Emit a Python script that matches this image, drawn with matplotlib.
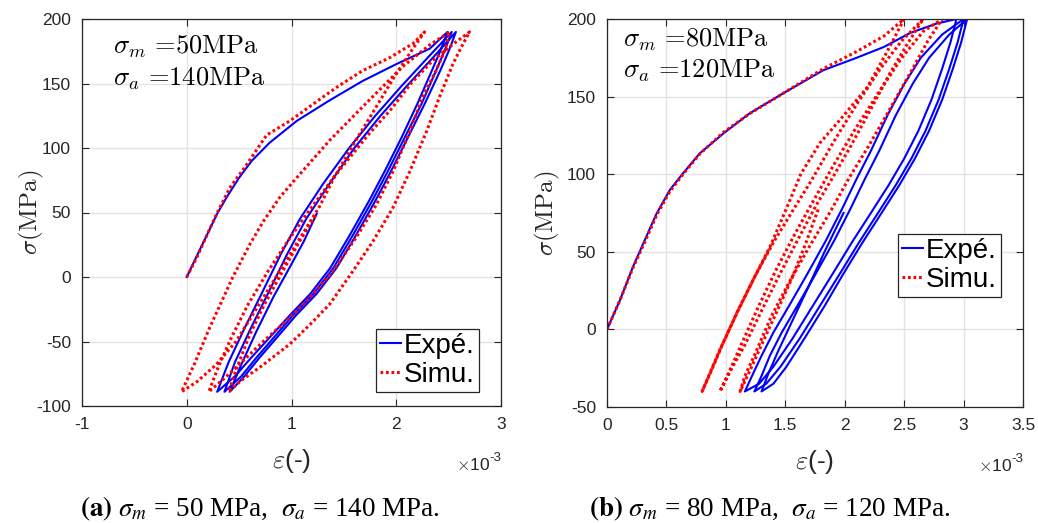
import matplotlib
matplotlib.use("Agg")
import matplotlib.pyplot as plt
from matplotlib.lines import Line2D

plt.rcParams['axes.unicode_minus'] = False
plt.rcParams['mathtext.fontset'] = 'cm'
plt.rcParams['font.family'] = ['Liberation Sans', 'DejaVu Sans']

# ---------------- data (strain in 1e-3, stress in MPa) ----------------
# Panel (a): sigma_m = 50 MPa, sigma_a = 140 MPa
a_exp_init_eps = [0, 0.13, 0.29, 0.39, 0.50, 0.62, 0.79, 1.05, 1.365, 1.68, 2.0, 2.32, 2.49]
a_exp_init_sig = [0, 22, 49, 63, 77, 90, 104, 121, 137, 152, 165, 177, 190]
a_exp_u1_eps = [2.49, 2.42, 2.34, 2.20, 2.05, 1.89, 1.74, 1.56, 1.37, 1.18, 0.98, 0.79, 0.61, 0.46, 0.29]
a_exp_u1_sig = [190, 175, 160, 134, 108, 82, 59, 33, 7, -13, -30, -47, -63, -77, -89]
a_exp_r1_eps = [0.29, 0.40, 0.55, 0.72, 0.90, 1.08, 1.30, 1.55, 1.80, 2.05, 2.30, 2.53]
a_exp_r1_sig = [-89, -66, -40, -12, 18, 45, 72, 100, 125, 148, 170, 190]
a_exp_u2_eps = [2.53, 2.46, 2.38, 2.24, 2.08, 1.92, 1.77, 1.59, 1.40, 1.21, 1.01, 0.83, 0.66, 0.52, 0.36]
a_exp_u2_sig = [190, 175, 160, 134, 108, 82, 59, 33, 7, -13, -30, -47, -63, -77, -89]
a_exp_r2_eps = [0.36, 0.46, 0.61, 0.78, 0.96, 1.14, 1.36, 1.60, 1.85, 2.10, 2.35, 2.57]
a_exp_r2_sig = [-89, -66, -40, -12, 18, 45, 72, 100, 125, 148, 170, 190]
a_exp_u3_eps = [2.57, 2.50, 2.42, 2.27, 2.11, 1.95, 1.80, 1.62, 1.43, 1.24, 1.04, 0.86, 0.69, 0.55, 0.41]
a_exp_u3_sig = [190, 175, 160, 134, 108, 82, 59, 33, 7, -13, -30, -47, -63, -77, -89]
a_exp_r3_eps = [0.41, 0.52, 0.66, 0.83, 1.00, 1.12, 1.24]
a_exp_r3_sig = [-89, -68, -43, -15, 10, 28, 49]

a_sim_init_eps = [0, 0.095, 0.286, 0.41, 0.571, 0.762, 0.984, 1.206, 1.43, 1.68, 1.937, 2.16, 2.27]
a_sim_init_sig = [0, 15, 49, 69, 87, 110, 121, 134, 147, 160, 170, 181, 190]
a_sim_u1_eps = [2.27, 2.15, 1.98, 1.78, 1.57, 1.40, 1.27, 1.08, 0.89, 0.70, 0.47, 0.28, 0.10, -0.05]
a_sim_u1_sig = [190, 176, 155, 128, 100, 76, 55, 30, 5, -20, -50, -68, -81, -89]
a_sim_r1_eps = [-0.05, 0.07, 0.22, 0.44, 0.60, 0.73, 0.89, 1.05, 1.365, 1.68, 2.06, 2.32, 2.51]
a_sim_r1_sig = [-89, -68, -39, 0, 25, 43, 62, 77, 106, 132, 163, 180, 190]
a_sim_u2_eps = [2.51, 2.46, 2.38, 2.25, 2.13, 1.97, 1.81, 1.62, 1.40, 1.175, 0.95, 0.73, 0.55, 0.38, 0.21]
a_sim_u2_sig = [190, 175, 160, 139, 113, 82, 56, 31, 5, -16, -34, -50, -64, -77, -89]
a_sim_r2_eps = [0.21, 0.30, 0.42, 0.58, 0.78, 1.00, 1.20, 1.41, 1.73, 1.95, 2.14, 2.35, 2.55, 2.70]
a_sim_r2_sig = [-89, -70, -48, -22, 5, 32, 55, 78, 110, 130, 150, 168, 181, 190]
a_sim_u3_eps = [2.70, 2.62, 2.54, 2.41, 2.29, 2.13, 1.97, 1.78, 1.59, 1.365, 1.175, 0.984, 0.73, 0.508, 0.40]
a_sim_u3_sig = [190, 178, 165, 139, 113, 82, 54, 28, 5, -21, -37, -52, -68, -81, -89]
a_sim_r3_eps = [0.40, 0.48, 0.60, 0.75, 0.92, 1.08, 1.24]
a_sim_r3_sig = [-89, -70, -45, -20, 5, 28, 49]

# Panel (b): sigma_m = 80 MPa, sigma_a = 120 MPa
b_exp_init_eps = [0, 0.11, 0.22, 0.306, 0.418, 0.53, 0.64, 0.78, 0.98, 1.20, 1.48, 1.82, 2.10, 2.33, 2.55, 2.77, 2.94]
b_exp_init_sig = [0, 19, 40.6, 55.5, 74.8, 90, 100.6, 113.4, 126.3, 139.2, 152, 167, 175, 182, 191, 197, 200]
b_exp_u1_eps = [2.94, 2.89, 2.82, 2.73, 2.62, 2.50, 2.37, 2.22, 2.06, 1.90, 1.73, 1.56, 1.40, 1.28, 1.16]
b_exp_u1_sig = [200, 185, 168, 148, 128, 110, 93, 75, 56, 36, 15, -6, -24, -35, -40]
b_exp_r1_eps = [1.16, 1.22, 1.30, 1.40, 1.53, 1.68, 1.84, 1.98, 2.10, 2.22, 2.36, 2.50, 2.64, 2.82, 3.00]
b_exp_r1_sig = [-40, -30, -17, -2, 15, 35, 57, 78, 97, 115, 138, 158, 175, 190, 200]
b_exp_u2_eps = [3.00, 2.95, 2.88, 2.79, 2.68, 2.56, 2.43, 2.28, 2.12, 1.96, 1.79, 1.62, 1.46, 1.34, 1.24]
b_exp_u2_sig = [200, 185, 168, 148, 128, 110, 93, 75, 56, 36, 15, -6, -24, -35, -40]
b_exp_r2_eps = [1.24, 1.30, 1.37, 1.47, 1.60, 1.75, 1.91, 2.05, 2.17, 2.29, 2.43, 2.57, 2.71, 2.88, 3.03]
b_exp_r2_sig = [-40, -30, -17, -2, 15, 35, 57, 78, 97, 115, 138, 158, 175, 190, 200]
b_exp_u3_eps = [3.03, 2.98, 2.91, 2.82, 2.71, 2.59, 2.46, 2.31, 2.15, 1.99, 1.83, 1.66, 1.51, 1.40, 1.30]
b_exp_u3_sig = [200, 185, 168, 148, 128, 110, 93, 75, 56, 36, 15, -6, -24, -35, -40]
b_exp_r3_eps = [1.30, 1.36, 1.44, 1.55, 1.68, 1.83, 1.99]
b_exp_r3_sig = [-40, -28, -14, 4, 25, 50, 75]

b_sim_init_eps = [0, 0.11, 0.22, 0.31, 0.42, 0.53, 0.64, 0.78, 0.98, 1.20, 1.48, 1.82, 2.10, 2.33, 2.50]
b_sim_init_sig = [0, 19, 40, 55, 74, 89, 100, 113, 127, 139, 152, 168, 179, 189, 200]
b_sim_u1_eps = [2.50, 2.35, 2.19, 1.96, 1.79, 1.63, 1.51, 1.37, 1.23, 1.09, 0.95, 0.80]
b_sim_u1_sig = [200, 178, 156, 135, 120, 100, 78, 53, 32, 10, -13, -40]
b_sim_r1_eps = [0.80, 0.87, 0.97, 1.10, 1.25, 1.40, 1.55, 1.72, 1.90, 2.10, 2.30, 2.48, 2.66]
b_sim_r1_sig = [-40, -28, -10, 12, 35, 56, 75, 96, 120, 145, 168, 186, 200]
b_sim_u2_eps = [2.66, 2.52, 2.38, 2.22, 2.05, 1.90, 1.76, 1.60, 1.45, 1.30, 1.16, 1.05, 0.95]
b_sim_u2_sig = [200, 183, 165, 142, 118, 98, 80, 57, 35, 12, -10, -25, -40]
b_sim_r2_eps = [0.95, 1.03, 1.14, 1.27, 1.42, 1.57, 1.73, 1.90, 2.08, 2.28, 2.48, 2.66, 2.82]
b_sim_r2_sig = [-40, -27, -8, 14, 38, 60, 82, 105, 128, 152, 175, 192, 200]
b_sim_u3_eps = [2.82, 2.70, 2.55, 2.38, 2.20, 2.04, 1.88, 1.70, 1.53, 1.38, 1.25, 1.16, 1.12]
b_sim_u3_sig = [200, 186, 165, 142, 118, 98, 76, 53, 30, 8, -15, -30, -40]
b_sim_r3_eps = [1.12, 1.20, 1.30, 1.42, 1.55, 1.67, 1.78]
b_sim_r3_sig = [-40, -27, -10, 10, 32, 55, 78]

a_xticks = [-1, 0, 1, 2, 3]
a_yticks = [-100, -50, 0, 50, 100, 150, 200]
b_xticks = [0, 0.5, 1, 1.5, 2, 2.5, 3, 3.5]
b_xticklabels = ['0', '0.5', '1', '1.5', '2', '2.5', '3', '3.5']
b_yticks = [-50, 0, 50, 100, 150, 200]

legend_labels = ['Expé.', 'Simu.']
a_note = [r'$\sigma_m$ =50MPa', r'$\sigma_a$ =140MPa']
b_note = [r'$\sigma_m$ =80MPa', r'$\sigma_a$ =120MPa']
a_caption = r'$\mathbf{(a)}$ $\sigma_m$ = 50 MPa,  $\sigma_a$ = 140 MPa.'
b_caption = r'$\mathbf{(b)}$ $\sigma_m$ = 80 MPa,  $\sigma_a$ = 120 MPa.'


def join(*parts):
    out = []
    for p in parts:
        out.extend(p)
    return out


BLUE = '#0000ff'
RED = '#ff0000'
AXC = '#262626'

fig = plt.figure(figsize=(10.38, 5.23), dpi=100)
axA = fig.add_axes([82 / 1038, 1 - 406 / 523, 419 / 1038, 387 / 523])
axB = fig.add_axes([607 / 1038, 1 - 407 / 523, 416 / 1038, 388 / 523])


def style(ax, xlim, ylim, xt, yt, ylab_x, xtl=None):
    ax.set_xlim(*xlim)
    ax.set_ylim(*ylim)
    ax.set_xticks(xt)
    if xtl is not None:
        ax.set_xticklabels(xtl)
    ax.set_yticks(yt)
    ax.grid(True, color='#e3e3e3', lw=1.0)
    ax.set_axisbelow(True)
    ax.tick_params(direction='in', length=5, width=0.8, top=True, right=True,
                   colors=AXC, labelsize=12.5, pad=8)
    for s in ax.spines.values():
        s.set_color(AXC)
        s.set_linewidth(0.9)
    ax.set_xlabel(r'$\varepsilon$(-)', fontsize=19, color=AXC, labelpad=11)
    ax.set_ylabel(r'$\sigma(\mathrm{MPa})$', fontsize=18, color=AXC)
    ax.yaxis.set_label_coords(ylab_x, 0.5)
    w = ax.get_position().width * 1038
    ax.text(1.0 - 11 / w, -0.165, r'$\times$10', transform=ax.transAxes,
            ha='right', va='baseline', fontsize=12.5, color=AXC)
    ax.text(1.0, -0.142, '-3', transform=ax.transAxes,
            ha='right', va='baseline', fontsize=9.5, color=AXC)


# Panel (a)
a_exp_eps = join(a_exp_init_eps, a_exp_u1_eps, a_exp_r1_eps, a_exp_u2_eps, a_exp_r2_eps, a_exp_u3_eps, a_exp_r3_eps)
a_exp_sig = join(a_exp_init_sig, a_exp_u1_sig, a_exp_r1_sig, a_exp_u2_sig, a_exp_r2_sig, a_exp_u3_sig, a_exp_r3_sig)
a_sim_eps = join(a_sim_init_eps, a_sim_u1_eps, a_sim_r1_eps, a_sim_u2_eps, a_sim_r2_eps, a_sim_u3_eps, a_sim_r3_eps)
a_sim_sig = join(a_sim_init_sig, a_sim_u1_sig, a_sim_r1_sig, a_sim_u2_sig, a_sim_r2_sig, a_sim_u3_sig, a_sim_r3_sig)
axA.plot(a_exp_eps, a_exp_sig, color=BLUE, lw=1.5)
axA.plot(a_sim_eps, a_sim_sig, color=RED, lw=2.2, ls=(0, (0.9, 0.9)))
style(axA, (-1, 3), (-100, 200), a_xticks, a_yticks, -0.085)

# Panel (b)
b_exp_eps = join(b_exp_init_eps, b_exp_u1_eps, b_exp_r1_eps, b_exp_u2_eps, b_exp_r2_eps, b_exp_u3_eps, b_exp_r3_eps)
b_exp_sig = join(b_exp_init_sig, b_exp_u1_sig, b_exp_r1_sig, b_exp_u2_sig, b_exp_r2_sig, b_exp_u3_sig, b_exp_r3_sig)
b_sim_eps = join(b_sim_init_eps, b_sim_u1_eps, b_sim_r1_eps, b_sim_u2_eps, b_sim_r2_eps, b_sim_u3_eps, b_sim_r3_eps)
b_sim_sig = join(b_sim_init_sig, b_sim_u1_sig, b_sim_r1_sig, b_sim_u2_sig, b_sim_r2_sig, b_sim_u3_sig, b_sim_r3_sig)
axB.plot(b_exp_eps, b_exp_sig, color=BLUE, lw=1.5)
axB.plot(b_sim_eps, b_sim_sig, color=RED, lw=2.2, ls=(0, (0.9, 0.9)))
style(axB, (0, 3.5), (-50, 200), b_xticks, b_yticks, -0.108, b_xticklabels)

# annotations
for ax, notes, xs, ys in [(axA, a_note, 0.074, (0.912, 0.827)),
                          (axB, b_note, 0.038, (0.930, 0.848))]:
    for t, yy in zip(notes, ys):
        ax.text(xs, yy, t, transform=ax.transAxes, family='cmr10',
                math_fontfamily='cm', fontsize=19, va='baseline', ha='left')

# legends
handles = [Line2D([], [], color=BLUE, lw=1.5),
           Line2D([], [], color=RED, lw=2.2, ls=(0, (0.9, 0.9)))]
for ax, anchor in [(axA, (0.947, 0.036)), (axB, (0.947, 0.2835))]:
    leg = ax.legend(handles, legend_labels, loc='lower right', bbox_to_anchor=anchor,
                    fontsize=20, frameon=True, fancybox=False, framealpha=1,
                    edgecolor=AXC, handlelength=0.75, handletextpad=0.1,
                    borderpad=0.15, labelspacing=0.1, borderaxespad=0)
    leg.get_frame().set_linewidth(0.9)

# captions
for cx, cap in [(260 / 1038, a_caption), (770 / 1038, b_caption)]:
    fig.text(cx, 1 - 516 / 523, cap, ha='center', va='baseline', fontsize=19.5,
             family='Liberation Serif', math_fontfamily='stix')

fig.savefig('out.png', dpi=100)
